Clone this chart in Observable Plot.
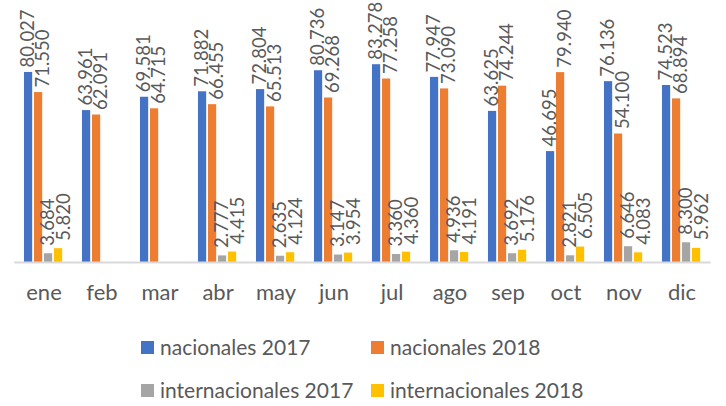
<!DOCTYPE html>
<html><head><meta charset="utf-8">
<script src="https://cdn.jsdelivr.net/npm/d3@7"></script>
<script src="https://cdn.jsdelivr.net/npm/@observablehq/plot@0.6"></script>
<style>
body{margin:0;background:#fff;font-family:Lato, sans-serif;}
#wrap{position:relative;width:726px;height:406px;overflow:hidden;}
.item{position:absolute;display:flex;align-items:center;white-space:nowrap;font-size:21px;color:#595959;font-family:Lato, sans-serif;line-height:26px;height:26px;}
.sw{width:13px;height:13px;margin-right:6px;flex:none;}
</style></head><body><div id="wrap"><div id="chart"></div></div>
<script>
const months = ["ene","feb","mar","abr","may","jun","jul","ago","sep","oct","nov","dic"];
const seriesNames = ["nacionales 2017","nacionales 2018","internacionales 2017","internacionales 2018"];
const nacionales2017 = [80.027,63.961,69.581,71.882,72.804,80.736,83.278,77.947,63.625,46.695,76.136,74.523];
const nacionales2018 = [71.550,62.091,64.715,66.455,65.513,69.268,77.258,73.090,74.244,79.940,54.100,68.894];
const internacionales2017 = [3.684,null,null,2.777,2.635,3.147,3.360,4.936,3.692,2.821,6.646,8.300];
const internacionales2018 = [5.820,null,null,4.415,4.124,3.954,4.360,4.191,5.176,6.505,4.083,5.962];
const colors = ["#4472C4","#ED7D31","#A5A5A5","#FFC000"];

const seriesValues = [nacionales2017, nacionales2018, internacionales2017, internacionales2018];
const data = [];
seriesNames.forEach((s, si) => {
  months.forEach((m, mi) => {
    const v = seriesValues[si][mi];
    if (v != null) data.push({month: m, series: s, value: v});
  });
});

const labelDx = [0, 5, 0, 6];
const labelDy = [-5, -5, -8, -8];

const chart = Plot.plot({
  width: 726,
  height: 310,
  marginLeft: 1.93,
  marginRight: 2.9,
  marginTop: 24.5,
  marginBottom: 48,
  style: {fontFamily: "Lato, sans-serif", fontSize: "22px", color: "#595959", background: "#fff"},
  fx: {domain: months, padding: 0.2927, paddingInner: 0.2927, paddingOuter: 0.2927, axis: "bottom", tickSize: 0, tickPadding: 22, label: null},
  x: {domain: seriesNames, axis: null, padding: 0},
  y: {domain: [0, 100], axis: null},
  color: {domain: seriesNames, range: colors},
  marks: [
    Plot.barY(data, {fx: "month", x: "series", y: "value", fill: "series", insetLeft: 0.9, insetRight: 0.9}),
    Plot.ruleY([0], {stroke: "#D9D9D9", strokeWidth: 2, insetLeft: -8.7, insetRight: -8.7}),
    ...seriesNames.map((s, si) => Plot.text(data.filter(d => d.series === s), {
      fx: "month", x: "series", y: "value",
      text: d => d.value.toFixed(3),
      rotate: -90, textAnchor: "start",
      dx: labelDx[si], dy: labelDy[si],
      fill: "#595959", fontSize: 18.5
    }))
  ]
});
document.getElementById("chart").appendChild(chart);

const wrap = document.getElementById("wrap");
const legendPos = [[141, 334], [371, 334], [141, 377], [371, 377]];
seriesNames.forEach((s, i) => {
  const it = document.createElement("div");
  it.className = "item";
  it.style.left = legendPos[i][0] + "px";
  it.style.top = legendPos[i][1] + "px";
  const sw = document.createElement("span");
  sw.className = "sw";
  sw.style.background = colors[i];
  const t = document.createElement("span");
  t.textContent = s;
  it.appendChild(sw);
  it.appendChild(t);
  wrap.appendChild(it);
});
</script>
</body></html>
